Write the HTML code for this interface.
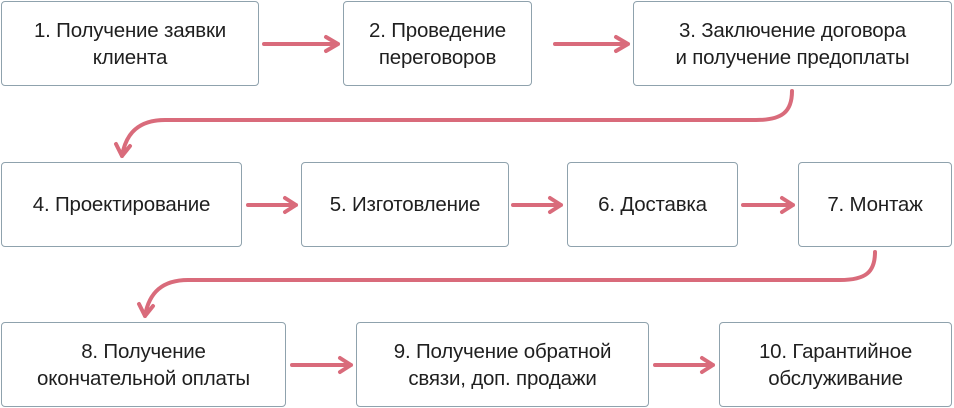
<!DOCTYPE html>
<html><head><meta charset="utf-8"><style>
html,body{margin:0;padding:0;background:#fff;width:954px;height:408px;overflow:hidden;position:relative;font-family:"Liberation Sans","DejaVu Sans",sans-serif;}
.b{position:absolute;box-sizing:border-box;border:1.5px solid #8fa2ad;border-radius:4px;background:#fff;display:flex;align-items:center;justify-content:center;text-align:center;font-size:20.5px;line-height:27px;color:#1f1f1f;letter-spacing:-0.2px;}
svg{position:absolute;left:0;top:0;}
</style></head><body>
<div class="b" style="left:1px;top:1px;width:258px;height:85px">1. Получение заявки<br>клиента</div>
<div class="b" style="left:343px;top:1px;width:189px;height:85px">2. Проведение<br>переговоров</div>
<div class="b" style="left:633px;top:1px;width:319px;height:85px">3. Заключение договора<br>и получение предоплаты</div>
<div class="b" style="left:1px;top:162px;width:241px;height:85px">4. Проектирование</div>
<div class="b" style="left:301px;top:162px;width:208px;height:85px">5. Изготовление</div>
<div class="b" style="left:567px;top:162px;width:171px;height:85px">6. Доставка</div>
<div class="b" style="left:798px;top:162px;width:154px;height:85px">7. Монтаж</div>
<div class="b" style="left:1px;top:322px;width:285px;height:85px">8. Получение<br>окончательной оплаты</div>
<div class="b" style="left:356px;top:322px;width:293px;height:85px">9. Получение обратной<br>связи, доп. продажи</div>
<div class="b" style="left:719px;top:322px;width:233px;height:85px">10. Гарантийное<br>обслуживание</div>
<svg width="954" height="408" fill="none" stroke="#d96b7b" stroke-width="4" stroke-linecap="round" stroke-linejoin="round">
<path d="M264 44H338M326 37L338 44L326 51"/>
<path d="M555 44H628M616 37L628 44L616 51"/>
<path d="M792 91C792 112 782 120 756 120H165C140 120 126 132 122 156M116 144L122 156L130 146"/>
<path d="M248 205H296M285 198L296 205L285 212"/>
<path d="M513 205H561M550 198L561 205L550 212"/>
<path d="M743 205H793M782 198L793 205L782 212"/>
<path d="M875 252C875 272 866 280 840 280H188C163 280 149 292 145 316M139 304L145 316L153 306"/>
<path d="M292 365H351M340 358L351 365L340 372"/>
<path d="M655 365H713M702 358L713 365L702 372"/>
</svg>
</body></html>
